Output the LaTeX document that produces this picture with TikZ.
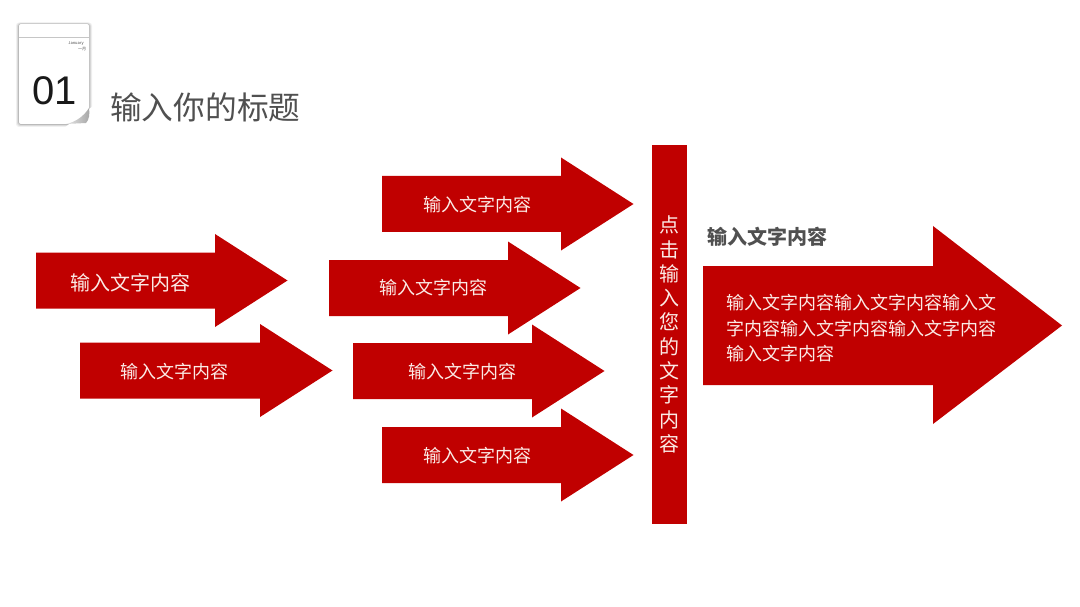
\documentclass[tikz,border=0pt]{standalone}
\usepackage{fontspec}
\setmainfont{Noto Sans CJK SC}
\newfontfamily\numfont{Liberation Sans}
\usepackage{xcolor}
\definecolor{slidered}{HTML}{C00000}
\definecolor{titlegray}{HTML}{505050}
\definecolor{labelpink}{HTML}{FBEBE6}
\tikzset{
  redshape/.style={fill=slidered, draw=none},
  redlabel/.style={text=labelpink, inner sep=0pt, anchor=west, font=\fontsize{18}{18}\selectfont},
  graylabel/.style={text=titlegray, inner sep=0pt, anchor=west},
}

\begin{document}
\begin{tikzpicture}[x=1pt, y=-1pt]
  \useasboundingbox (0,0) rectangle (1080,607);
  \def\bodyH{28}
  \def\headH{46.5}
  \def\headL{72.5}

  % calendar
  \foreach \s/\o in {3/0.06,2/0.09,1/0.14}{
    \fill[black, opacity=\o, rounded corners=3pt] (19-\s,24-\s/2) rectangle (89+\s,124+\s);
  }
  \fill[white, rounded corners=2pt] (19,24) rectangle (89,124);
  \draw[gray!45, line width=0.8pt] (19,37) -- (89,37);
  \fill[white] (64,128) -- (93,128) -- (93,106) -- cycle;
  \shade[left color=gray!20, right color=gray!70] (66,124) .. controls (76,122) and (84,116) .. (89,108)
    .. controls (90,114) and (89,120) .. (86,123) -- cycle;
  \node[inner sep=0pt, text=black!70, font=\fontsize{4}{4}\selectfont] (calmonth) at (76,44) {January};
  \node[inner sep=0pt, text=black!70, font=\fontsize{4}{4}\selectfont] (calcn) at (82,49) {一月};
  \node[inner sep=0pt, text=black!90, font=\numfont\fontsize{40}{40}\selectfont] (calnum) at (55,91) {01};

  \node[graylabel, font=\fontsize{31.7}{32}\selectfont] (title) at (110,107) {输入你的标题};

  % small arrows
  \foreach \name/\lx/\hx/\cy/\tx/\ty/\fs in {
      arrowa/36/215/280.5/70/283/20,
      arrowb/80/260/370.5/120/372/18,
      arrowc/382/561/204/423/205/18,
      arrowd/329/508/288/379/288/18,
      arrowe/353/532/371/408/372/18,
      arrowf/382/561/455/423/456/18}{
    \fill[redshape] (\lx,\cy-\bodyH) -- (\hx,\cy-\bodyH) -- (\hx,\cy-\headH) -- (\hx+\headL,\cy)
      -- (\hx,\cy+\headH) -- (\hx,\cy+\bodyH) -- (\lx,\cy+\bodyH) -- cycle;
    \node[redlabel, font=\fontsize{\fs}{\fs}\selectfont] (\name) at (\tx,\ty) {输入文字内容};
  }

  % bar
  \fill[redshape] (652,145) rectangle (687,524);
  \node[redlabel, anchor=center, align=center, font=\fontsize{20}{24.3}\selectfont] (barlabel) at (669,334.5)
    {点\\击\\输\\入\\您\\的\\文\\字\\内\\容};

  % big arrow
  \fill[redshape] (703,266) -- (933,266) -- (933,226) -- (1062,325.5) -- (933,424) -- (933,385) -- (703,385) -- cycle;
  \node[graylabel, font=\bfseries\fontsize{20}{20}\selectfont] (bighead) at (707,237) {输入文字内容};
  \node[redlabel, align=left, font=\fontsize{18}{25.5}\selectfont] (bigtext) at (726,328.5)
    {输入文字内容输入文字内容输入文\\字内容输入文字内容输入文字内容\\输入文字内容};
\end{tikzpicture}
\end{document}
